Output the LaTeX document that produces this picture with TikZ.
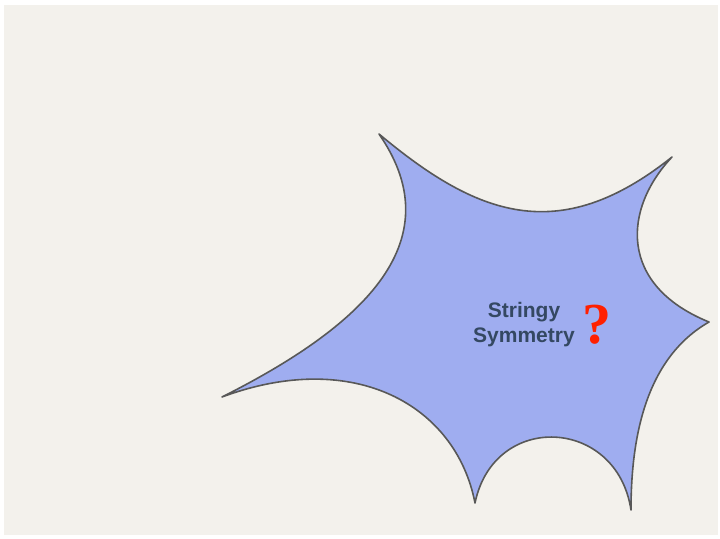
\documentclass[tikz,border=0pt]{standalone}
\usepackage{fontspec}
\setmainfont{Liberation Sans}
\newfontfamily\qfont{Liberation Serif}
\definecolor{paper}{RGB}{243,241,236}
\definecolor{blobfill}{RGB}{159,173,240}
\definecolor{blobline}{RGB}{88,88,88}
\definecolor{txtblue}{RGB}{52,72,98}
\definecolor{qred}{RGB}{255,32,0}
\tikzset{
  blob/.style={fill=blobfill,draw=blobline,line width=1.6pt,line join=round},
  label/.style={font=\bfseries\fontsize{21}{25}\selectfont,text=txtblue,align=center,inner sep=0pt},
  qmark/.style={font=\qfont\bfseries\fontsize{58}{58}\selectfont,text=qred,inner sep=0pt}
}
\begin{document}
\begin{tikzpicture}[x=1pt,y=-1pt]
\useasboundingbox (0,0) rectangle (720,538);
\fill[white] (0,0) rectangle (720,538);
\fill[paper] (4,5) rectangle (718,535);
\coordinate (A) at (379,134);
\coordinate (B) at (672,157);
\coordinate (C) at (709,322);
\coordinate (D) at (631,510);
\coordinate (E) at (475,503);
\coordinate (F) at (222,397);
\path[blob] (A)
  .. controls (476,215) and (558,248) .. (B)
  .. controls (623,209) and (618,285) .. (C)
  .. controls (648,357) and (631,432) .. (D)
  .. controls (617,417) and (494,411) .. (E)
  .. controls (456,405) and (354,348) .. (F)
  .. controls (355,330) and (456,245) .. (A)
  -- cycle;
\node[label] (t) at (524,325) {Stringy\\Symmetry};
\node[qmark] (q) at (597,325) {?};
\end{tikzpicture}
\end{document}
